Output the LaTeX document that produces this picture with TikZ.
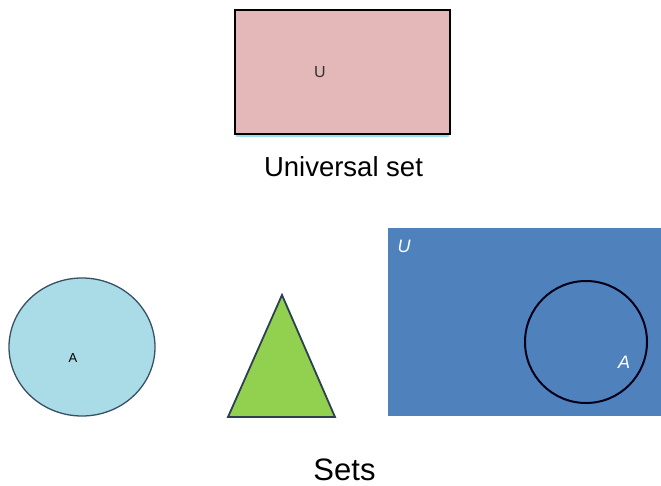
\documentclass[tikz,border=0pt]{standalone}
\usepackage{fontspec}
\setmainfont{Liberation Sans}
\usetikzlibrary{shapes.geometric}
\begin{document}
\begin{tikzpicture}[x=1pt,y=-1pt,
  lbl/.style={inner sep=0pt,anchor=base,text depth=0pt}]
\definecolor{pinkfill}{RGB}{228,184,184}
\definecolor{aquafill}{RGB}{170,220,232}
\definecolor{greenfill}{RGB}{146,208,80}
\definecolor{bluefill}{RGB}{79,129,189}
\definecolor{circedge}{RGB}{55,80,100}
\definecolor{glow}{RGB}{90,200,240}
\useasboundingbox (0,0) rectangle (661,486);
% universal set rectangle
\draw[glow,line width=3pt,opacity=0.6] (236,136) -- (449,136);
\node[draw=black,line width=1.6pt,fill=pinkfill,minimum width=215pt,minimum height=124pt,inner sep=0pt] (urect) at (342.5,72) {};
\node[inner sep=0pt,font=\fontsize{16}{18}\selectfont,text=black!80] (ulabel) at (320,72) {U};
\node[lbl,font=\fontsize{27.5}{30}\selectfont] (univ) at (343.5,177) {Universal set};
% set A circle
\node[ellipse,draw=circedge,line width=1.3pt,fill=aquafill,minimum width=146pt,minimum height=138pt,inner sep=0pt] (acirc) at (82,347) {};
\node[inner sep=0pt,font=\fontsize{13}{15}\selectfont] (alabel) at (73,358) {A};
% triangle
\coordinate (tapex) at (282,295);
\coordinate (tleft) at (228,417);
\coordinate (tright) at (335,417);
\draw[draw=circedge!80!black,line width=1.8pt,fill=greenfill,line join=miter] (tapex) -- (tleft) -- (tright) -- cycle;
% venn rectangle
\node[fill=bluefill,minimum width=273pt,minimum height=188pt,inner sep=0pt,anchor=north west] (vrect) at (388,228) {};
\node[inner sep=0pt,text=white,font=\fontsize{18}{20}\selectfont\itshape] (vu) at (404,246) {U};
\node[circle,draw=black!90!blue,line width=2pt,minimum size=122pt,inner sep=0pt] (vcirc) at (586,342) {};
\node[inner sep=0pt,text=white,font=\fontsize{18}{20}\selectfont\itshape] (va) at (624,362) {A};
\node[lbl,font=\fontsize{31}{34}\selectfont] (sets) at (344.5,480) {Sets};
\end{tikzpicture}
\end{document}
